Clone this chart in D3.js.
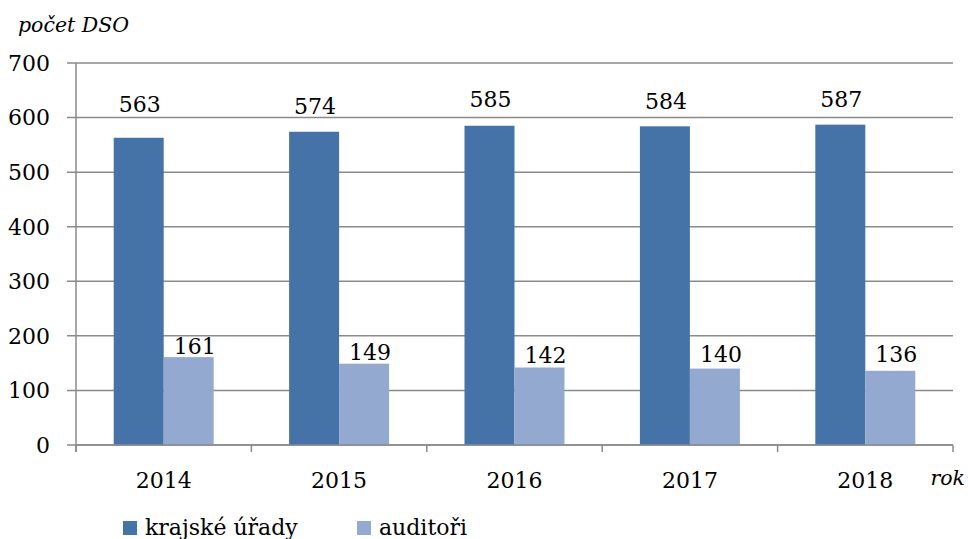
<!DOCTYPE html>
<html><head><meta charset="utf-8">
<script src="https://cdn.jsdelivr.net/npm/d3@7"></script>
<style>
html,body{margin:0;padding:0;background:#fff;}
svg{display:block;font-family:"DejaVu Serif",serif;}
</style></head>
<body><svg id="c" width="968" height="539"></svg>
<script>
const years = ["2014","2015","2016","2017","2018"];
const seriesNames = ["krajské úřady","auditoři"];
const krajskeUrady = [563,574,585,584,587];
const auditori = [161,149,142,140,136];
const yTicks = [0,100,200,300,400,500,600,700];
const colors = ["#4573A8","#94A9D0"];
// label lifts (layout only, px above bar top)
const darkLift = [26,18,19,17,18];
const lightLift = [3,4,5,7,9];

const svg = d3.select("#c");
const m = {l:76, r:953, t:63, b:445};
const x = d3.scaleBand().domain(years).range([m.l,m.r]).paddingInner(0).paddingOuter(0);
const x1 = d3.scaleBand().domain(seriesNames).range([0,x.bandwidth()]).paddingInner(0).paddingOuter(0.754);
const y = d3.scaleLinear().domain([0,700]).range([m.b,m.t]);
const fs = 22;
const gridColor = "#8a8a8a";

// gridlines
svg.append("g").selectAll("line").data(yTicks).join("line")
  .attr("x1",m.l-9).attr("x2",m.r).attr("y1",d=>y(d)).attr("y2",d=>y(d))
  .attr("stroke",gridColor).attr("stroke-width",1.5);

// y axis line
svg.append("line").attr("x1",m.l).attr("x2",m.l).attr("y1",m.t).attr("y2",m.b+7)
  .attr("stroke",gridColor).attr("stroke-width",1.5);

// y tick labels
svg.append("g").selectAll("text").data(yTicks).join("text")
  .attr("x",50).attr("y",d=>y(d)).attr("dy","0.36em")
  .attr("text-anchor","end").attr("font-size",fs).attr("fill","#000").text(d=>d);

// bars
const data = years.map((yr,i)=>({yr,i,vals:[krajskeUrady[i],auditori[i]]}));
const g = svg.append("g");
data.forEach(d=>{
  seriesNames.forEach((s,si)=>{
    const v = d.vals[si];
    g.append("rect").attr("x",x(d.yr)+x1(s)).attr("width",x1.bandwidth())
      .attr("y",y(v)).attr("height",y(0)-y(v)).attr("fill",colors[si]);
  });
});

// x axis line + ticks
svg.append("line").attr("x1",m.l).attr("x2",m.r).attr("y1",m.b).attr("y2",m.b)
  .attr("stroke",gridColor).attr("stroke-width",1.5);
const edges = years.map(d=>x(d)).concat([m.r]);
svg.append("g").selectAll("line").data(edges).join("line")
  .attr("x1",d=>d).attr("x2",d=>d).attr("y1",m.b).attr("y2",m.b+7)
  .attr("stroke",gridColor).attr("stroke-width",1.5);

// year labels
svg.append("g").selectAll("text").data(years).join("text")
  .attr("x",d=>x(d)+x.bandwidth()/2).attr("y",488)
  .attr("text-anchor","middle").attr("font-size",fs).text(d=>d);

// value labels
data.forEach(d=>{
  const s0 = seriesNames[0], s1 = seriesNames[1];
  svg.append("text").attr("x",x(d.yr)+x1(s0)+x1.bandwidth()/2+1)
    .attr("y",y(d.vals[0])-darkLift[d.i]).attr("text-anchor","middle")
    .attr("font-size",fs).text(d.vals[0]);
  svg.append("text").attr("x",x(d.yr)+x1(s1)+x1.bandwidth()/2+6)
    .attr("y",y(d.vals[1])-lightLift[d.i]).attr("text-anchor","middle")
    .attr("font-size",fs).text(d.vals[1]);
});

// axis titles
svg.append("text").attr("x",18).attr("y",32).attr("font-size",20.5)
  .attr("font-style","italic").text("počet DSO");
svg.append("text").attr("x",965).attr("y",485).attr("font-size",20.5)
  .attr("text-anchor","end").attr("font-style","italic").text("rok");

// legend
const lg = svg.append("g");
const legX = [123,357];
seriesNames.forEach((s,i)=>{
  lg.append("rect").attr("x",legX[i]).attr("y",521).attr("width",14).attr("height",14).attr("fill",colors[i]);
  lg.append("text").attr("x",legX[i]+22).attr("y",535).attr("font-size",fs).text(s);
});
</script></body></html>
